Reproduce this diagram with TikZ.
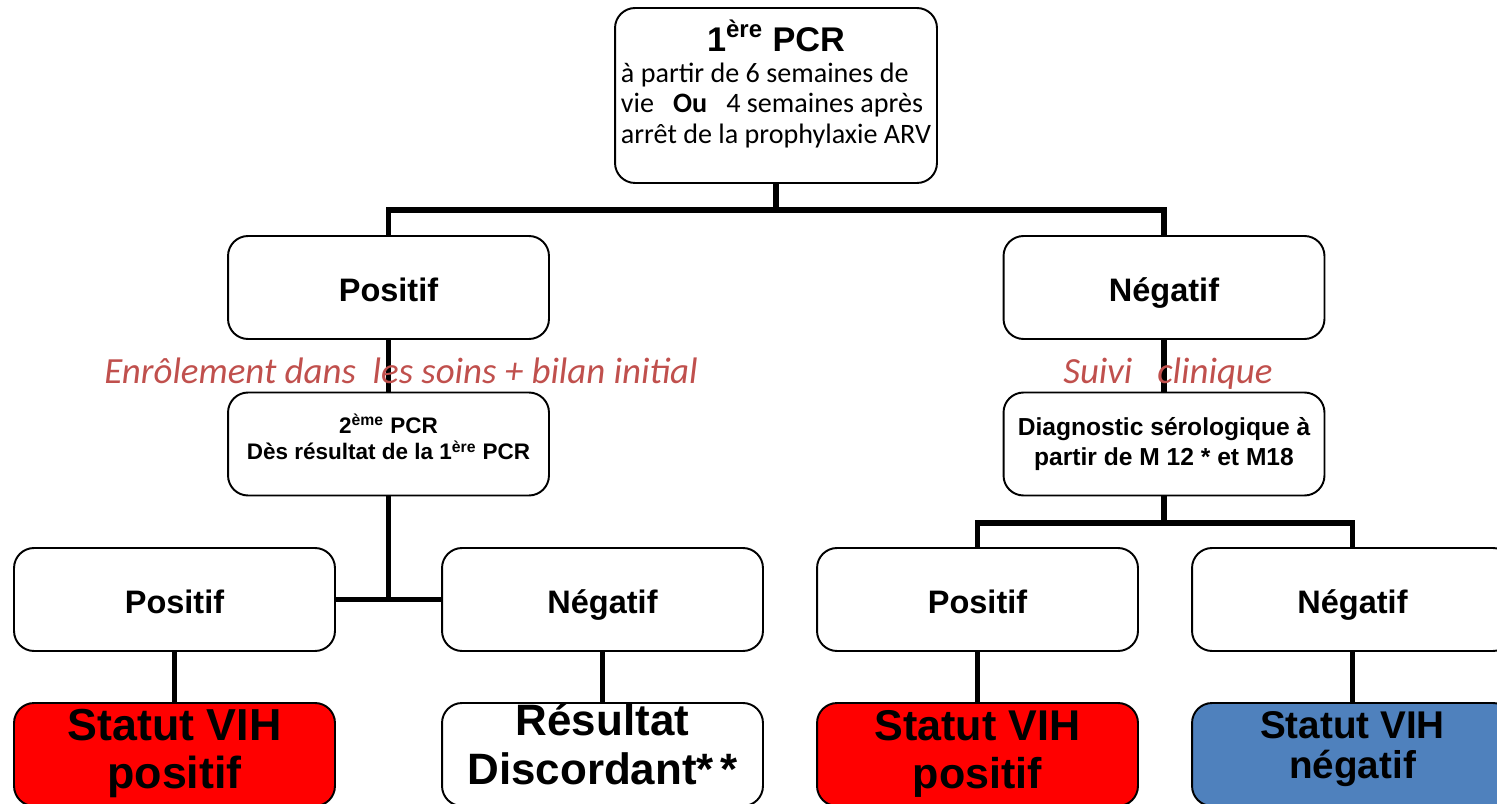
\documentclass[tikz,border=0pt]{standalone}
\usepackage{fontspec}
\setmainfont{Liberation Sans}
\newfontfamily\calfont{Carlito}
\usetikzlibrary{positioning}
\definecolor{notered}{HTML}{C0504D}
\definecolor{vihred}{HTML}{FF0000}
\definecolor{vihblue}{HTML}{4F81BD}
\tikzstyle{box} = [draw,line width=1.1pt,rectangle,rounded corners=0.4cm,minimum width=6.42cm,minimum height=2.06cm,fill=white,align=center,inner sep=2pt]
\tikzstyle{answer} = [box,text height=17pt,text depth=1pt,font=\fontsize{18.5}{22}\selectfont\bfseries]
\tikzstyle{step2} = [box,font=\fontsize{12.8}{14.2}\selectfont\bfseries]
\tikzstyle{status} = [box]
\tikzstyle{statustext} = [anchor=north,inner sep=0,align=center]
\tikzstyle{bar} = [-,line width=3.3pt]
\tikzstyle{stem} = [-,line width=2.3pt]
\tikzstyle{note} = [anchor=base,text=notered,font=\calfont\itshape\fontsize{21}{24}\selectfont]

\begin{document}
\begin{tikzpicture}[x=0.02cm,y=-0.02cm]
  \useasboundingbox (0,0) rectangle (1497,804);
  % first test
  \node[box,minimum width=6.44cm,minimum height=3.5cm] (pcr1) at (776,95.5) {\fontsize{16}{17.6}\selectfont
    \begin{tabular}{@{}l@{}}
      \multicolumn{1}{@{}c@{}}{\bfseries\fontsize{19.5}{17.6}\selectfont 1\textsuperscript{ère} PCR}\\
      \calfont à partir de 6 semaines de\\
      \calfont vie\ \ \ \textbf{Ou}\ \ \ 4 semaines après\\
      \calfont arrêt de la prophylaxie ARV\\[10pt]
    \end{tabular}};
  \node[answer] (pos1) at (388.5,287.5) {Positif};
  \node[answer] (neg1) at (1164,287.5) {Négatif};
  % second step
  \node[step2] (pcr2) at (388.5,444) {\raisebox{2pt}[\height][\depth]{\begin{tabular}{@{}c@{}}
      2\textsuperscript{ème} PCR\\Dès résultat de la 1\textsuperscript{ère} PCR
    \end{tabular}}};
  \node[step2,font=\fontsize{14}{17.5}\selectfont\bfseries] (diag) at (1164,444) {Diagnostic sérologique à\\partir de M 12 * et M18};
  \node[answer] (pos2) at (174.5,599.5) {Positif};
  \node[answer] (neg2) at (602.5,599.5) {Négatif};
  \node[answer] (pos3) at (977.5,599.5) {Positif};
  \node[answer] (neg3) at (1352.5,599.5) {Négatif};
  % status
  \node[status,fill=vihred] (res1) at (174.5,754.5) {};
  \node[status] (res2) at (602.5,754.5) {};
  \node[status,fill=vihred] (res3) at (977.5,754.5) {};
  \node[status,fill=vihblue] (res4) at (1352.5,754.5) {};
  \node[statustext,font=\fontsize{25.5}{27.5}\selectfont\bfseries] (res1-text) at (174.5,709) {Statut VIH\\positif};
  \node[statustext,font=\fontsize{25}{28}\selectfont\bfseries] (res2-text) at (602.5,703) {Résultat\\Discordant*\kern0.15em*};
  \node[statustext,font=\fontsize{24.5}{27.5}\selectfont\bfseries] (res3-text) at (977.5,710) {Statut VIH\\positif};
  \node[statustext,font=\fontsize{22}{23}\selectfont\bfseries] (res4-text) at (1352.5,711) {Statut VIH\\négatif};
  % links
  \coordinate (j1) at (776,210);
  \coordinate (j2) at (1164,523);
  \draw[bar] (pcr1.south) -- (j1);
  \draw[bar] (pos1.north) |- (j1) -| (neg1.north);
  \draw[bar] (pos1) -- (pcr2);
  \draw[bar] (neg1) -- (diag);
  \draw[bar] (pcr2.south) -- (pcr2.south |- pos2.east);
  \draw[bar] (pos2) -- (neg2);
  \draw[bar] (diag.south) -- (j2);
  \draw[bar] (pos3.north) |- (j2) -| (neg3.north);
  \draw[stem] (pos2) -- (res1);
  \draw[stem] (neg2) -- (res2);
  \draw[stem] (pos3) -- (res3);
  \draw[stem] (neg3) -- (res4);
  % notes
  \node[note] (care) at (401,383) {Enrôlement dans\ \ les soins + bilan initial};
  \node[note] (follow) at (1168,383) {Suivi\ \ \ clinique};
\end{tikzpicture}
\end{document}
